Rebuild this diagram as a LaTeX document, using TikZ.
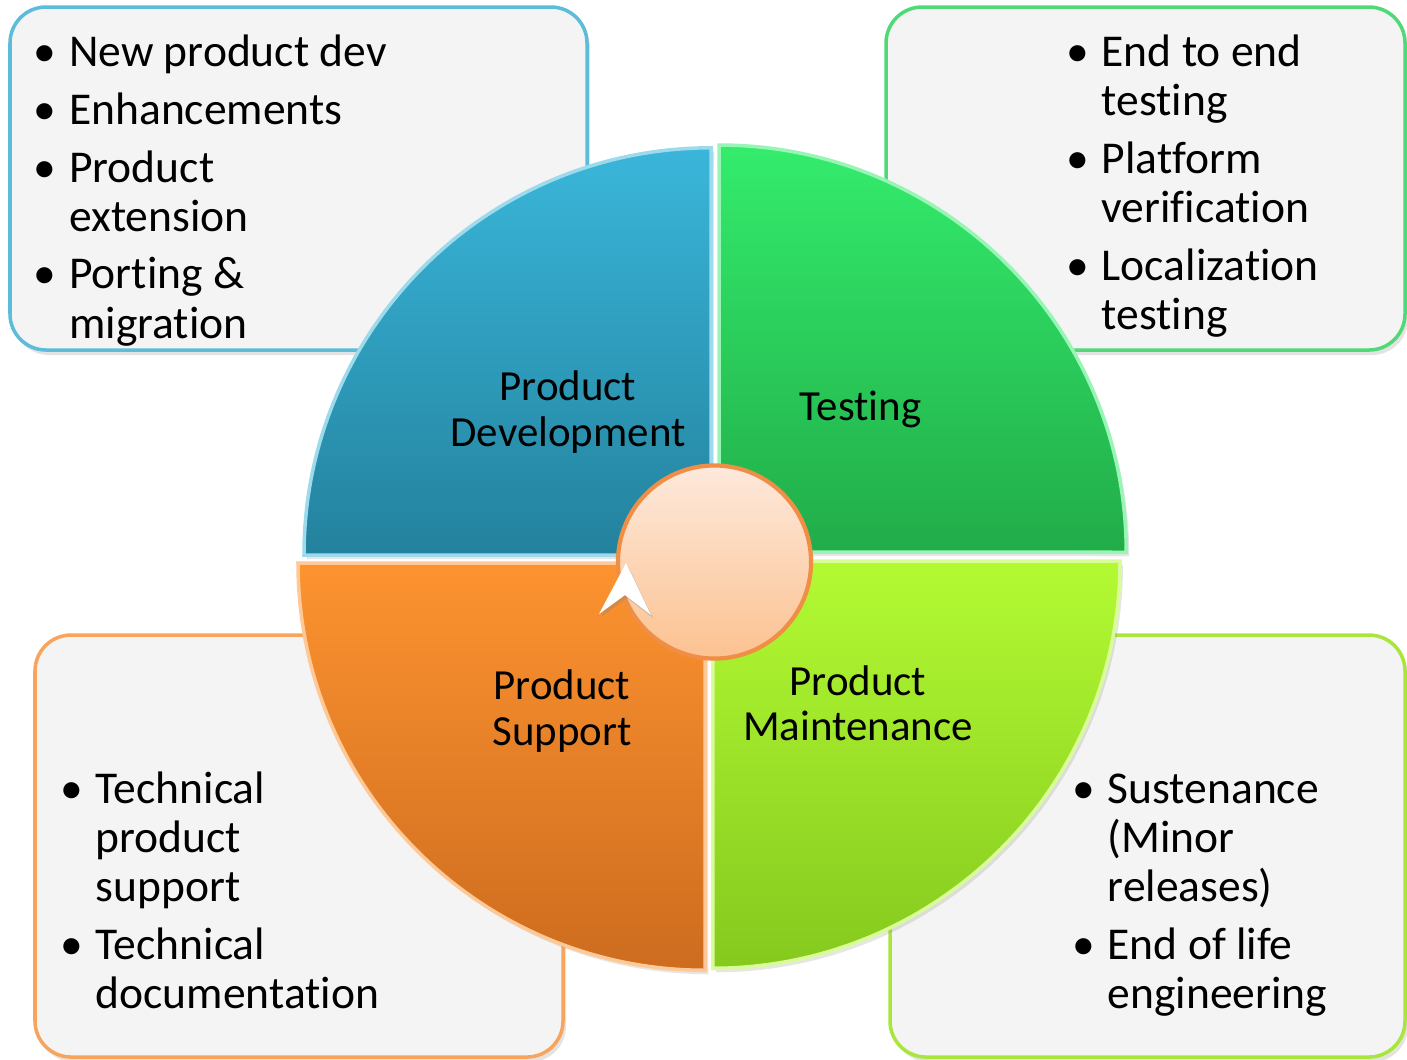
\documentclass[tikz,border=0pt]{standalone}
\usepackage{fontspec}
\setmainfont{Carlito}[Ligatures={NoCommon,TeX}]
\usetikzlibrary{shadows}
\definecolor{cardfill}{HTML}{F4F4F4}
\definecolor{devline}{HTML}{5CBCD9}
\definecolor{testline}{HTML}{4FD977}
\definecolor{supline}{HTML}{F7A45C}
\definecolor{maintline}{HTML}{A8E63C}
\definecolor{devtop}{HTML}{3AB6DA}
\definecolor{devbot}{HTML}{23829D}
\definecolor{testtop}{HTML}{34EC6C}
\definecolor{testbot}{HTML}{21AC49}
\definecolor{suptop}{HTML}{FD9330}
\definecolor{supbot}{HTML}{CD6C1F}
\definecolor{mainttop}{HTML}{B3FA33}
\definecolor{maintbot}{HTML}{85C91E}
\definecolor{hubtop}{HTML}{FDE9DC}
\definecolor{hubbot}{HTML}{FCC291}
\definecolor{hubline}{HTML}{F08E45}
\tikzset{
    card/.append style={rounded corners=0.36cm,fill=cardfill,line width=1pt,
        drop shadow={opacity=0.22,shadow xshift=0.03cm,shadow yshift=-0.05cm}},
    quarter/.append style={line width=1pt,
        drop shadow={opacity=0.2,shadow xshift=0.03cm,shadow yshift=-0.04cm}},
    seg_text/.append style={align=center,text width=3.4cm,inner sep=0pt,anchor=base,
        font=\fontsize{12.2}{13}\selectfont},
    items/.append style={anchor=base west,inner sep=0pt,font=\fontsize{12.95}{14}\selectfont},
}
\newcommand{\bul}{\makebox[0.3cm]{\textbullet}}

\begin{document}
\begin{tikzpicture}[x=0.01cm,y=-0.01cm]
    \useasboundingbox (0,0) rectangle (1407,1059);

    % cards
    \draw[card,draw=devline]   (10,7)    rectangle (587,350);
    \draw[card,draw=testline]  (886,7)   rectangle (1405,350);
    \draw[card,draw=supline]   (35,635)  rectangle (563,1057);
    \draw[card,draw=maintline] (890,635) rectangle (1405,1057);

    \node[items] (devlist) at (29.5,66.7) {\begin{tabular}[t]{@{}c@{\hspace{0.09cm}}l@{}}
        \bul & New product dev\\[2.4pt]
        \bul & Enhancements\\[2.4pt]
        \bul & Product\\
             & extension\\[2.4pt]
        \bul & Porting \&\\
             & migration
    \end{tabular}};
    \node[items] (testlist) at (1062,66.7) {\begin{tabular}[t]{@{}c@{\hspace{0.09cm}}l@{}}
        \bul & End to end\\
             & testing\\[2.4pt]
        \bul & Platform\\
             & verification\\[2.4pt]
        \bul & Localization\\
             & testing
    \end{tabular}};
    \node[items] (suplist) at (56,803) {\begin{tabular}[t]{@{}c@{\hspace{0.09cm}}l@{}}
        \bul & Technical\\
             & product\\
             & support\\[2.4pt]
        \bul & Technical\\
             & documentation
    \end{tabular}};
    \node[items] (maintlist) at (1068,803) {\begin{tabular}[t]{@{}c@{\hspace{0.09cm}}l@{}}
        \bul & Sustenance\\
             & (Minor\\
             & releases)\\[2.4pt]
        \bul & End of life\\
             & engineering
    \end{tabular}};

    % quarters
    \shade[quarter,top color=devtop,bottom color=devbot,draw=devtop!50!white]
        (711,555) -- (304,555) arc[start angle=180,end angle=90,radius=4.07cm] -- cycle;
    \shade[quarter,top color=testtop,bottom color=testbot,draw=testtop!50!white]
        (719,552) -- (719,145) arc[start angle=90,end angle=0,radius=4.07cm] -- cycle;
    \shade[quarter,top color=suptop,bottom color=supbot,draw=suptop!50!white]
        (705,563) -- (298,563) arc[start angle=180,end angle=270,radius=4.07cm] -- cycle;
    \shade[quarter,top color=mainttop,bottom color=maintbot,draw=mainttop!50!white]
        (713,561) -- (1120,561) arc[start angle=0,end angle=-90,radius=4.07cm] -- cycle;

    \node[seg_text] (dev)     at (568,400.4) {Product\\Development};
    \node[seg_text] (test)    at (860.6,420.7) {Testing};
    \node[seg_text] (support) at (562,699.4) {Product\\Support};
    \node[seg_text] (maint)   at (858,695) {Product\\Maintenance};

    % hub
    \node[circle,minimum size=1.93cm,inner sep=0pt,top color=hubtop,bottom color=hubbot,
          draw=hubline,line width=1.2pt] (hub) at (714.5,562) {};
    \fill[white,drop shadow={opacity=0.3,shadow xshift=0.02cm,shadow yshift=-0.03cm}]
        (626,563) -- (651,615) -- (625,595) -- (599,614) -- cycle;
\end{tikzpicture}
\end{document}
